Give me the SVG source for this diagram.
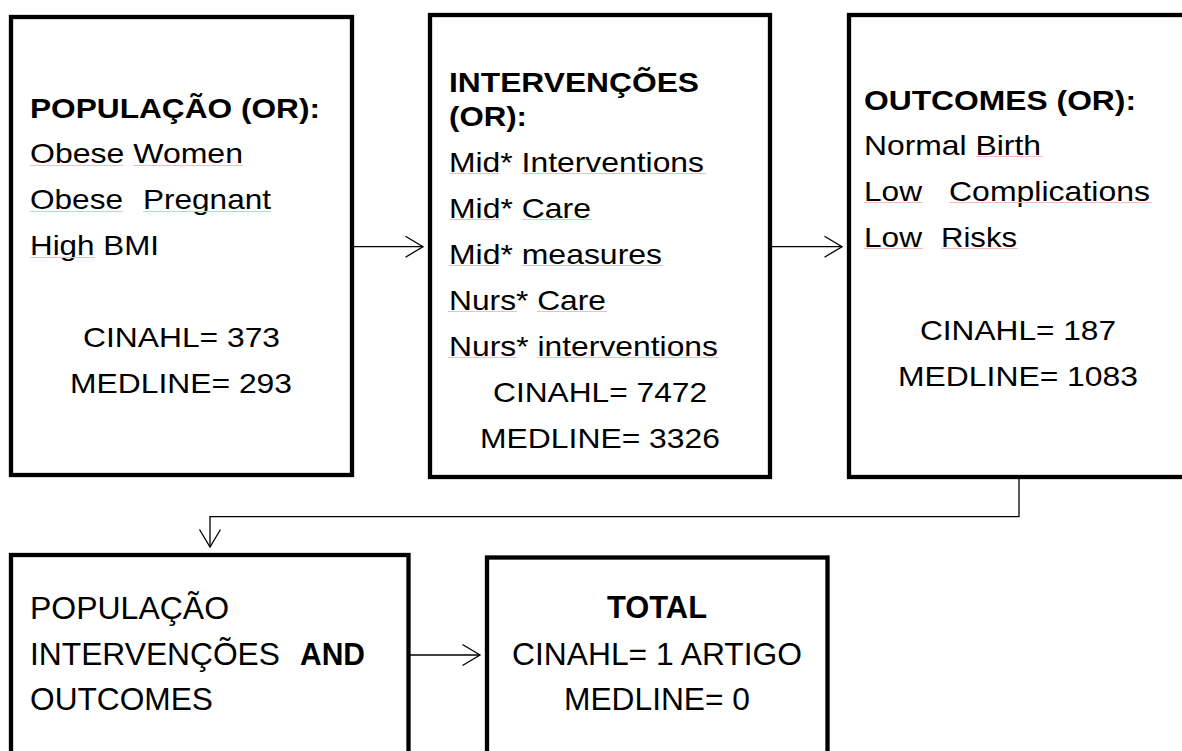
<svg xmlns="http://www.w3.org/2000/svg" width="1182" height="751" viewBox="0 0 1182 751">
<style>
.box{fill:#fff;stroke:#000;stroke-width:4.3}
.t{font-family:"Liberation Sans",Arial,sans-serif;font-size:28px;fill:#000}
.b{font-weight:bold}
.lg{font-size:31px}
.conn{fill:none;stroke:#000;stroke-width:1.3}
.sq{stroke:#f6bcbc;stroke-width:1}
</style>
<defs>
<marker id="arr" markerUnits="userSpaceOnUse" markerWidth="40" markerHeight="40" viewBox="-20 -20 40 40" refX="0" refY="0" orient="auto" overflow="visible">
<path d="M-17.5,-10.5 L0,0 L-17.5,10.5" fill="none" stroke="#000" stroke-width="1.3"/>
</marker>
</defs>
<rect width="1182" height="751" fill="#fff"/>

<g id="connectors">
<line class="conn" x1="354" y1="246.7" x2="423" y2="246.7" marker-end="url(#arr)"/>
<line class="conn" x1="772" y1="246.7" x2="842" y2="246.7" marker-end="url(#arr)"/>
<polyline class="conn" points="1019,479 1019,516.7 210,516.7 210,547" marker-end="url(#arr)"/>
<line class="conn" x1="410" y1="655" x2="480" y2="655" marker-end="url(#arr)"/>
</g>

<g id="node-populacao">
<rect class="box" x="11" y="17" width="341" height="458"/>
<text class="t b" x="30" y="118" textLength="290" lengthAdjust="spacingAndGlyphs">POPULAÇÃO (OR):</text>
<text class="t" x="30" y="163" textLength="213" lengthAdjust="spacingAndGlyphs">Obese Women</text>
<text class="t" x="30" y="209" textLength="93" lengthAdjust="spacingAndGlyphs">Obese</text>
<text class="t" x="143" y="209" textLength="128" lengthAdjust="spacingAndGlyphs">Pregnant</text>
<text class="t" x="30" y="255" textLength="129" lengthAdjust="spacingAndGlyphs">High BMI</text>
<text class="t" x="83" y="347" textLength="197" lengthAdjust="spacingAndGlyphs">CINAHL= 373</text>
<text class="t" x="70" y="393" textLength="222" lengthAdjust="spacingAndGlyphs">MEDLINE= 293</text>
<g class="sq">
<line x1="30" y1="165.5" x2="123" y2="165.5"/><line x1="133" y1="165.5" x2="243" y2="165.5"/>
<line x1="30" y1="211.5" x2="123" y2="211.5"/><line x1="143" y1="211.5" x2="271" y2="211.5"/>
<line x1="30" y1="257.5" x2="95" y2="257.5"/>
</g>
</g>

<g id="node-intervencoes">
<rect class="box" x="430" y="15" width="340" height="462"/>
<text class="t b" x="449" y="92" textLength="250" lengthAdjust="spacingAndGlyphs">INTERVENÇÕES</text>
<text class="t b" x="449" y="126" textLength="78" lengthAdjust="spacingAndGlyphs">(OR):</text>
<text class="t" x="449" y="172" textLength="255" lengthAdjust="spacingAndGlyphs">Mid* Interventions</text>
<text class="t" x="449" y="218" textLength="142" lengthAdjust="spacingAndGlyphs">Mid* Care</text>
<text class="t" x="449" y="264" textLength="213" lengthAdjust="spacingAndGlyphs">Mid* measures</text>
<text class="t" x="449" y="310" textLength="157" lengthAdjust="spacingAndGlyphs">Nurs* Care</text>
<text class="t" x="449" y="356" textLength="269" lengthAdjust="spacingAndGlyphs">Nurs* interventions</text>
<text class="t" x="493" y="402" textLength="214" lengthAdjust="spacingAndGlyphs">CINAHL= 7472</text>
<text class="t" x="480" y="448" textLength="240" lengthAdjust="spacingAndGlyphs">MEDLINE= 3326</text>
<g class="sq">
<line x1="449" y1="173.5" x2="500" y2="173.5"/><line x1="522" y1="173.5" x2="706" y2="173.5"/>
<line x1="449" y1="219.5" x2="500" y2="219.5"/><line x1="522" y1="219.5" x2="592" y2="219.5"/>
<line x1="449" y1="265.5" x2="500" y2="265.5"/><line x1="522" y1="265.5" x2="663" y2="265.5"/>
<line x1="448" y1="311.5" x2="517" y2="311.5"/><line x1="537" y1="311.5" x2="607" y2="311.5"/>
<line x1="448" y1="357.5" x2="517" y2="357.5"/><line x1="537" y1="357.5" x2="719" y2="357.5"/>
</g>
</g>

<g id="node-outcomes">
<rect class="box" x="849" y="15" width="345" height="462"/>
<text class="t b" x="864" y="110" textLength="272" lengthAdjust="spacingAndGlyphs">OUTCOMES (OR):</text>
<text class="t" x="864" y="155" textLength="177" lengthAdjust="spacingAndGlyphs">Normal Birth</text>
<text class="t" x="864" y="201" textLength="58" lengthAdjust="spacingAndGlyphs">Low</text>
<text class="t" x="949" y="201" textLength="201" lengthAdjust="spacingAndGlyphs">Complications</text>
<text class="t" x="864" y="247" textLength="58" lengthAdjust="spacingAndGlyphs">Low</text>
<text class="t" x="941" y="247" textLength="76" lengthAdjust="spacingAndGlyphs">Risks</text>
<text class="t" x="920" y="340" textLength="196" lengthAdjust="spacingAndGlyphs">CINAHL= 187</text>
<text class="t" x="898" y="386" textLength="240" lengthAdjust="spacingAndGlyphs">MEDLINE= 1083</text>
<g class="sq">
<line x1="976" y1="156.5" x2="1043" y2="156.5"/>
<line x1="864" y1="202.5" x2="923" y2="202.5"/><line x1="949" y1="202.5" x2="1152" y2="202.5"/>
<line x1="864" y1="248.5" x2="923" y2="248.5"/><line x1="941" y1="248.5" x2="1018" y2="248.5"/>
</g>
</g>

<g id="node-combined">
<rect class="box" x="11" y="555" width="397.5" height="220"/>
<text class="t lg" x="30" y="619" textLength="199" lengthAdjust="spacingAndGlyphs">POPULAÇÃO</text>
<text class="t lg" x="30" y="665" textLength="250" lengthAdjust="spacingAndGlyphs">INTERVENÇÕES</text>
<text class="t lg b" x="300" y="665" textLength="65" lengthAdjust="spacingAndGlyphs">AND</text>
<text class="t lg" x="30" y="710" textLength="183" lengthAdjust="spacingAndGlyphs">OUTCOMES</text>
</g>

<g id="node-total">
<rect class="box" x="487" y="557.5" width="340.5" height="220"/>
<text class="t lg b" x="607" y="618" textLength="100" lengthAdjust="spacingAndGlyphs">TOTAL</text>
<text class="t lg" x="512" y="665" textLength="290" lengthAdjust="spacingAndGlyphs">CINAHL= 1 ARTIGO</text>
<text class="t lg" x="564" y="710" textLength="186" lengthAdjust="spacingAndGlyphs">MEDLINE= 0</text>
</g>
</svg>
